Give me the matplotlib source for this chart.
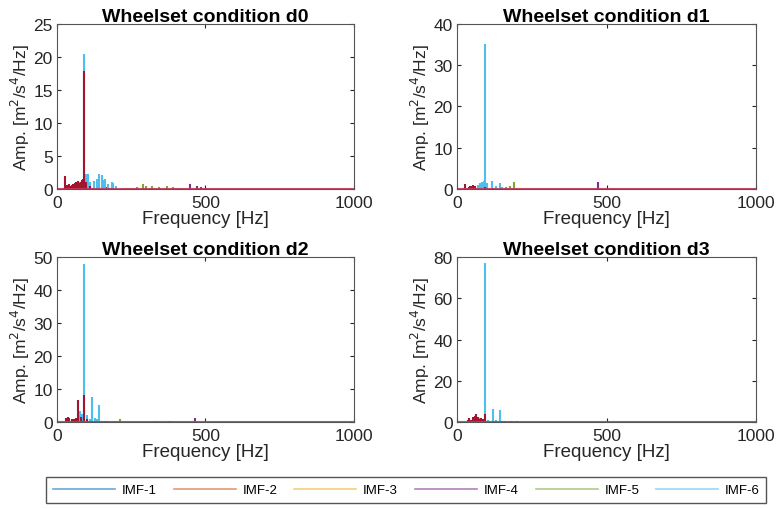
import matplotlib.pyplot as plt
from matplotlib.lines import Line2D

plt.rcParams["font.family"] = ["Liberation Sans", "DejaVu Sans"]

# MATLAB default colour order
colors = ["#0072BD", "#D95319", "#EDB120", "#7E2F8E", "#77AC30", "#4DBEEE", "#A2142F"]
labels = ["IMF-1", "IMF-2", "IMF-3", "IMF-4", "IMF-5", "IMF-6"]

titles = ["Wheelset condition d0", "Wheelset condition d1",
          "Wheelset condition d2", "Wheelset condition d3"]
ymax = [25, 40, 50, 80]
yticks = [[0, 5, 10, 15, 20, 25], [0, 10, 20, 30, 40],
          [0, 10, 20, 30, 40, 50], [0, 20, 40, 60, 80]]

# peak frequencies [Hz] and amplitudes, per IMF (index 0..6)
# condition d0
d0_f = [
    [150, 165, 180],
    [60, 120],
    [250, 330],
    [448, 471, 485],
    [240, 270, 291, 300, 320, 345, 370, 390, 410],
    [75, 85, 92, 99, 105, 112, 125, 135, 143, 151, 158, 163, 172, 185, 190, 200],
    [28, 35, 40, 45, 50, 55, 60, 65, 70, 75, 80, 85, 88, 92, 96, 110],
]
d0_a = [
    [0.4, 0.3, 0.2],
    [0.3, 0.2],
    [0.2, 0.2],
    [0.8, 0.5, 0.3],
    [0.2, 0.3, 0.8, 0.5, 0.4, 0.3, 0.4, 0.3, 0.2],
    [1.0, 1.2, 20.4, 2.3, 2.2, 1.0, 1.2, 1.5, 2.3, 2.1, 1.4, 1.5, 0.8, 1.0, 0.9, 0.4],
    [2.0, 0.6, 0.7, 0.5, 0.6, 0.8, 0.9, 1.0, 1.2, 0.9, 1.1, 1.3, 1.5, 17.9, 1.0, 0.5],
]
# condition d1
d1_f = [
    [120, 150],
    [60],
    [200],
    [470],
    [165, 178, 190],
    [70, 78, 85, 90, 95, 100, 117, 130, 145, 150],
    [28, 40, 45, 50, 55, 61, 95],
]
d1_a = [
    [0.3, 0.2],
    [0.3],
    [0.2],
    [1.8],
    [0.4, 0.7, 1.8],
    [1.0, 1.4, 1.6, 2.0, 35.2, 1.5, 2.0, 0.8, 1.5, 0.6],
    [1.3, 0.6, 0.7, 0.8, 0.9, 0.7, 0.5],
]
# condition d2
d2_f = [
    [150, 160, 170],
    [50],
    [330, 370],
    [380, 465],
    [200, 211, 330],
    [78, 85, 92, 101, 110, 119, 129, 135, 142],
    [30, 38, 42, 50, 58, 65, 70, 80, 92, 100],
]
d2_a = [
    [0.4, 0.4, 0.3],
    [0.4],
    [0.4, 0.3],
    [0.3, 1.3],
    [0.4, 1.0, 0.4],
    [3.3, 2.5, 48.0, 2.2, 1.0, 7.6, 1.3, 1.0, 5.3],
    [1.1, 1.5, 1.2, 0.8, 1.0, 1.2, 6.8, 1.4, 8.2, 1.0],
]
# condition d3
d3_f = [
    [150, 180],
    [55],
    [120],
    [200],
    [160],
    [70, 78, 85, 95, 105, 119, 130, 144],
    [35, 41, 48, 55, 60, 65, 70, 75, 80, 88, 95],
]
d3_a = [
    [0.5, 0.3],
    [0.4],
    [0.3],
    [0.3],
    [0.3],
    [1.2, 2.0, 1.5, 77.0, 0.8, 6.1, 0.8, 5.8],
    [0.8, 1.7, 1.0, 2.2, 3.0, 4.0, 2.5, 1.5, 2.0, 1.5, 3.9],
]

freqs = [d0_f, d1_f, d2_f, d3_f]
amps = [d0_a, d1_a, d2_a, d3_a]

fig = plt.figure(figsize=(7.77, 5.10), dpi=100)
positions = [
    [0.0734, 0.6275, 0.382, 0.3235],
    [0.5882, 0.6275, 0.385, 0.3235],
    [0.0734, 0.1706, 0.382, 0.3235],
    [0.5882, 0.1706, 0.385, 0.3235],
]
edge = "#262626"

for k in range(4):
    ax = fig.add_axes(positions[k])
    for i in range(7):
        ax.vlines(freqs[k][i], 0, amps[k][i], color=colors[i], linewidth=1.5)
    ax.axhline(0, color="#C8375A", linewidth=1.5, alpha=0.9)
    ax.set_xlim(0, 1000)
    ax.set_ylim(0, ymax[k])
    ax.set_xticks([0, 500, 1000])
    ax.set_yticks(yticks[k])
    ax.tick_params(direction="in", top=True, right=True, labelsize=12.5,
                   colors=edge, length=3)
    ax.tick_params(axis="x", pad=4)
    ax.tick_params(axis="y", pad=3)
    for s in ax.spines.values():
        s.set_color("#555555")
        s.set_linewidth(0.8)
    ax.set_title(titles[k], fontsize=14, fontweight="bold", pad=2)
    ax.set_xlabel("Frequency [Hz]", fontsize=13.5, color=edge, labelpad=0)
    ax.set_ylabel("Amp. [m$^2$/s$^4$/Hz]", fontsize=12.5, color=edge, labelpad=1)

handles = [Line2D([0], [0], color=colors[i], linewidth=1.2, alpha=0.6) for i in range(6)]
fig.legend(handles, labels, loc="center", bbox_to_anchor=(0.523, 0.037), ncol=6,
           fontsize=9.5, handlelength=4.7, handletextpad=0.5, columnspacing=1.3,
           fancybox=False, edgecolor="#555555", framealpha=1, borderpad=0.5)

fig.savefig("out.png", dpi=100)
